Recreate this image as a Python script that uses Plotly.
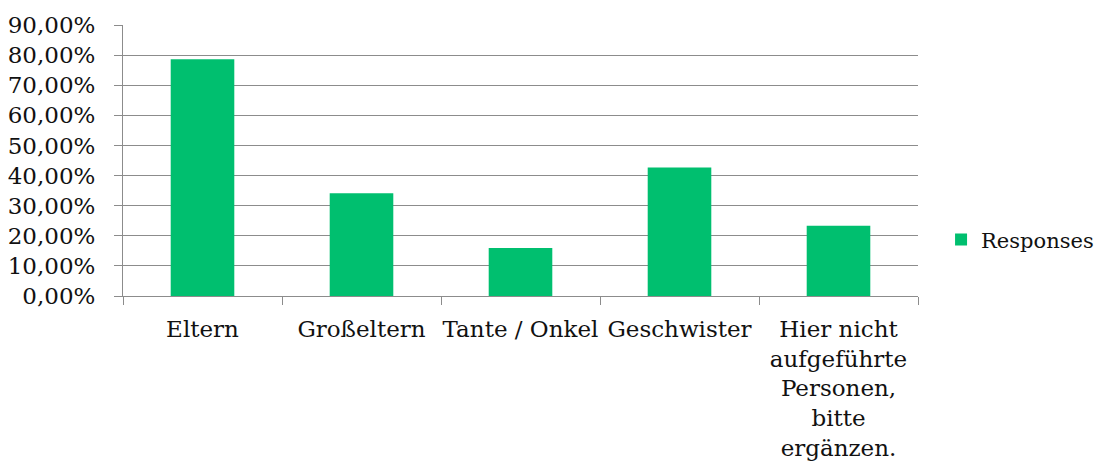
import plotly.graph_objects as go

categories = [
    "Eltern",
    "Großeltern",
    "Tante / Onkel",
    "Geschwister",
    "Hier nicht<br>aufgeführte<br>Personen,<br>bitte<br>ergänzen.",
]
responses = [0.786, 0.341, 0.159, 0.427, 0.233]

GREEN = "#00bf6f"
GRID = "#8c8c8c"
FONT = "DejaVu Serif"

fig = go.Figure()
fig.add_trace(go.Bar(
    x=categories, y=responses, name="Responses",
    marker=dict(color=GREEN, line=dict(width=0)),
))

# the page body adds an 8px offset, so margins are shifted to compensate
fig.update_layout(
    width=1105, height=465,
    margin=dict(l=115, r=195, t=17, b=177, autoexpand=False),
    paper_bgcolor="white", plot_bgcolor="white",
    font=dict(family=FONT, size=23, color="#111111"),
    separators=",.",
    bargap=0.6,
    showlegend=True,
    legend=dict(x=1.029, y=0.207, xanchor="left", yanchor="middle",
                font=dict(size=21)),
)
fig.update_yaxes(
    range=[0, 0.9], dtick=0.1, tickformat=".2%",
    showgrid=True, gridcolor=GRID, gridwidth=1,
    showline=True, linecolor=GRID, linewidth=1,
    ticks="outside", ticklen=8, tickcolor=GRID, ticklabelstandoff=14,
    zeroline=False, fixedrange=True, automargin=False,
)
fig.update_xaxes(
    showline=True, linecolor=GRID, linewidth=1,
    ticks="outside", ticklen=8, tickcolor=GRID, tickson="boundaries",
    ticklabelstandoff=12, tickangle=0, automargin=False,
)

fig.write_html("out.html")
